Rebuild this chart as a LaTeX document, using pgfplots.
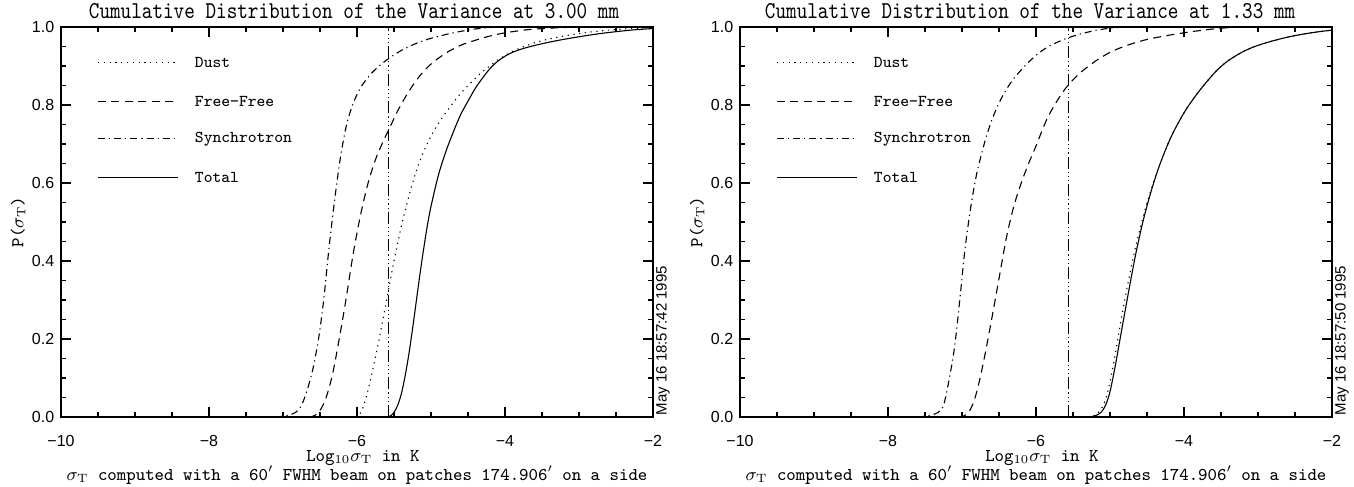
\documentclass[border=0pt]{standalone}
\usepackage{fontspec}
\usepackage{graphicx}
\usepackage{pgfplots}
\pgfplotsset{compat=1.18}
\newfontfamily\sansf{Liberation Sans}

\tikzset{
  dustst/.style={line width=0.55pt, dash pattern=on 0.6pt off 2.3pt},
  ffst/.style={line width=0.55pt, dash pattern=on 4pt off 2.7pt},
  syst/.style={line width=0.55pt, dash pattern=on 3.5pt off 2pt on 0.6pt off 2pt},
  totst/.style={line width=0.55pt},
  vst/.style={line width=0.55pt, dash pattern=on 6pt off 1.5pt on 0.6pt off 1.5pt on 0.6pt off 1.5pt on 0.6pt off 1.5pt},
}

\pgfplotsset{
  cdfaxis/.style={
    scale only axis, width=296pt, height=195pt,
    xmin=-10, xmax=-2, ymin=0, ymax=1,
    xtick={-10,-8,-6,-4,-2}, xticklabels={−10,−8,−6,−4,−2},
    ytick={0,0.2,0.4,0.6,0.8,1}, yticklabels={0.0,0.2,0.4,0.6,0.8,1.0},
    minor x tick num=3, minor y tick num=3,
    tick align=inside,
    major tick length=5pt, minor tick length=2.5pt,
    line width=0.75pt,
    every tick/.style={line width=0.6pt, black},
    tick label style={font=\sansf\fontsize{8}{9}\selectfont},
    xticklabel style={anchor=base, yshift=-14.5pt},
    yticklabel style={anchor=east, xshift=0.3pt},
    clip=false,
  },
}

\begin{document}
\begin{tikzpicture}
\useasboundingbox (-30.5pt,-35pt) rectangle (646.5pt,208.5pt);

% ---------------- Left: 3.00 mm ----------------
\begin{axis}[cdfaxis, at={(0pt,0pt)}, anchor=south west]
\addplot[syst, smooth] coordinates {
(-7.1,0) (-7.0,0.002) (-6.9,0.006) (-6.82,0.013) (-6.75,0.03) (-6.68,0.065)
(-6.6,0.12) (-6.52,0.2) (-6.45,0.3) (-6.38,0.43) (-6.3,0.56) (-6.22,0.67)
(-6.14,0.75) (-6.05,0.805) (-5.95,0.845) (-5.82,0.878) (-5.7,0.9) (-5.58,0.918)
(-5.4,0.94) (-5.2,0.958) (-5.0,0.971) (-4.7,0.985) (-4.4,0.995) (-4.1,1.0)};
\addplot[ffst, smooth] coordinates {
(-6.65,0) (-6.58,0.003) (-6.52,0.012) (-6.46,0.03) (-6.4,0.06) (-6.33,0.11)
(-6.25,0.19) (-6.15,0.3) (-6.05,0.42) (-5.95,0.52) (-5.85,0.6) (-5.75,0.66)
(-5.65,0.705) (-5.55,0.745) (-5.45,0.785) (-5.3,0.835) (-5.15,0.875) (-5.0,0.905)
(-4.8,0.933) (-4.6,0.953) (-4.4,0.966) (-4.2,0.977) (-4.0,0.985) (-3.7,0.993)
(-3.4,0.997) (-3.0,1.0)};
\addplot[dustst, smooth] coordinates {
(-6.02,0) (-5.98,0.004) (-5.94,0.015) (-5.9,0.035) (-5.85,0.07) (-5.8,0.11)
(-5.7,0.2) (-5.6,0.3) (-5.5,0.4) (-5.4,0.49) (-5.3,0.565) (-5.2,0.63) (-5.1,0.68)
(-5.0,0.72) (-4.9,0.753) (-4.8,0.78) (-4.65,0.818) (-4.5,0.85) (-4.3,0.886)
(-4.1,0.915) (-3.9,0.937) (-3.7,0.953) (-3.5,0.965) (-3.2,0.977) (-2.9,0.986)
(-2.6,0.992) (-2.3,0.996) (-2.0,0.998)};
\addplot[totst, smooth] coordinates {
(-5.58,0) (-5.54,0.004) (-5.5,0.012) (-5.45,0.03) (-5.4,0.06) (-5.35,0.105)
(-5.3,0.16) (-5.25,0.225) (-5.2,0.295) (-5.15,0.365) (-5.1,0.43) (-5.05,0.49)
(-5.0,0.54) (-4.9,0.62) (-4.8,0.68) (-4.7,0.73) (-4.6,0.775) (-4.5,0.81)
(-4.4,0.843) (-4.3,0.87) (-4.2,0.894) (-4.1,0.912) (-4.0,0.925) (-3.9,0.935)
(-3.75,0.945) (-3.57,0.954) (-3.3,0.965) (-3.0,0.975) (-2.68,0.984) (-2.3,0.992)
(-2.0,0.996)};
\addplot[vst] coordinates {(-5.57,0) (-5.57,1)};
% legend
\addplot[dustst] coordinates {(-9.5,0.91) (-8.42,0.91)};
\addplot[ffst] coordinates {(-9.5,0.81) (-8.42,0.81)};
\addplot[syst] coordinates {(-9.5,0.713) (-8.42,0.713)};
\addplot[totst] coordinates {(-9.5,0.613) (-8.42,0.613)};
\begin{scope}[every node/.style={font=\ttfamily\fontsize{8.3}{10}\selectfont, anchor=west, inner sep=0pt}]
\node at (axis cs:-8.2,0.91) {Dust};
\node at (axis cs:-8.2,0.81) {Free−Free};
\node at (axis cs:-8.2,0.713) {Synchrotron};
\node at (axis cs:-8.2,0.613) {Total};
\end{scope}
\node[anchor=base, font=\ttfamily\fontsize{10.1}{12}\selectfont, inner sep=0pt, yshift=4pt] at (rel axis cs:0.495,1) {\scalebox{1}[1.2]{Cumulative Distribution of the Variance at 3.00 mm}};
\node[anchor=base, font=\ttfamily\fontsize{9}{10}\selectfont, inner sep=0pt, yshift=-22pt] at (rel axis cs:0.51,0) {Log$_{10}\sigma_{\mathrm T}$ in K};
\node[anchor=base, font=\ttfamily\fontsize{9}{10}\selectfont, inner sep=0pt, yshift=-31.5pt] at (rel axis cs:0.5,0) {$\sigma_{\mathrm T}$ computed with a 60$'$ FWHM beam on patches 174.906$'$ on a side};
\node[font=\ttfamily\fontsize{9}{10}\selectfont, rotate=90, inner sep=0pt] at (rel axis cs:-0.0726,0.5) {P($\sigma_{\mathrm T}$)};
\node[xshift=5pt, yshift=0.5pt, rotate=90, anchor=west, inner sep=0pt, font=\sansf\fontsize{7.5}{8}\selectfont] at (rel axis cs:1,0) {May 16 18:57:42 1995};
\end{axis}

% ---------------- Right: 1.33 mm ----------------
\begin{axis}[cdfaxis, at={(339.5pt,0pt)}, anchor=south west]
\addplot[syst, smooth] coordinates {
(-7.6,0) (-7.5,0.002) (-7.4,0.006) (-7.32,0.012) (-7.25,0.03) (-7.18,0.09)
(-7.1,0.18) (-7.03,0.3) (-6.96,0.43) (-6.88,0.54) (-6.8,0.625) (-6.7,0.7)
(-6.6,0.76) (-6.5,0.805) (-6.4,0.84) (-6.3,0.868) (-6.2,0.89) (-6.1,0.91)
(-5.95,0.935) (-5.8,0.953) (-5.6,0.97) (-5.4,0.982) (-5.2,0.991) (-5.0,0.997)
(-4.8,1.0)};
\addplot[ffst, smooth] coordinates {
(-7.05,0) (-6.97,0.003) (-6.9,0.015) (-6.84,0.04) (-6.78,0.08) (-6.7,0.15)
(-6.6,0.25) (-6.5,0.355) (-6.4,0.46) (-6.3,0.54) (-6.2,0.6) (-6.1,0.65)
(-6.0,0.695) (-5.85,0.765) (-5.7,0.815) (-5.57,0.85) (-5.4,0.883) (-5.2,0.912)
(-5.0,0.935) (-4.77,0.953) (-4.5,0.968) (-4.2,0.979) (-3.9,0.988) (-3.6,0.995)
(-3.3,1.0)};
\addplot[dustst, smooth] coordinates {
(-5.3,0) (-5.2,0.005) (-5.12,0.02) (-5.06,0.045) (-5.0,0.09) (-4.93,0.16)
(-4.85,0.25) (-4.75,0.35) (-4.65,0.44) (-4.55,0.515) (-4.45,0.58) (-4.35,0.636)
(-4.25,0.685) (-4.15,0.728) (-4.0,0.78) (-3.85,0.822) (-3.7,0.858) (-3.55,0.89)
(-3.4,0.914) (-3.2,0.937) (-3.0,0.953) (-2.75,0.967) (-2.5,0.978) (-2.25,0.986)
(-2.0,0.992)};
\addplot[totst, smooth] coordinates {
(-5.3,0) (-5.2,0.003) (-5.12,0.012) (-5.06,0.03) (-5.0,0.065) (-4.93,0.13)
(-4.85,0.215) (-4.75,0.32) (-4.65,0.42) (-4.55,0.505) (-4.45,0.575) (-4.35,0.635)
(-4.25,0.685) (-4.15,0.728) (-4.0,0.78) (-3.85,0.822) (-3.7,0.858) (-3.55,0.89)
(-3.4,0.914) (-3.2,0.937) (-3.0,0.953) (-2.75,0.967) (-2.5,0.978) (-2.25,0.986)
(-2.0,0.992)};
\addplot[vst] coordinates {(-5.56,0) (-5.56,1)};
% legend
\addplot[dustst] coordinates {(-9.5,0.91) (-8.42,0.91)};
\addplot[ffst] coordinates {(-9.5,0.81) (-8.42,0.81)};
\addplot[syst] coordinates {(-9.5,0.713) (-8.42,0.713)};
\addplot[totst] coordinates {(-9.5,0.613) (-8.42,0.613)};
\begin{scope}[every node/.style={font=\ttfamily\fontsize{8.3}{10}\selectfont, anchor=west, inner sep=0pt}]
\node at (axis cs:-8.2,0.91) {Dust};
\node at (axis cs:-8.2,0.81) {Free−Free};
\node at (axis cs:-8.2,0.713) {Synchrotron};
\node at (axis cs:-8.2,0.613) {Total};
\end{scope}
\node[anchor=base, font=\ttfamily\fontsize{10.1}{12}\selectfont, inner sep=0pt, yshift=4pt] at (rel axis cs:0.49,1) {\scalebox{1}[1.2]{Cumulative Distribution of the Variance at 1.33 mm}};
\node[anchor=base, font=\ttfamily\fontsize{9}{10}\selectfont, inner sep=0pt, yshift=-22pt] at (rel axis cs:0.51,0) {Log$_{10}\sigma_{\mathrm T}$ in K};
\node[anchor=base, font=\ttfamily\fontsize{9}{10}\selectfont, inner sep=0pt, yshift=-31.5pt] at (rel axis cs:0.5,0) {$\sigma_{\mathrm T}$ computed with a 60$'$ FWHM beam on patches 174.906$'$ on a side};
\node[font=\ttfamily\fontsize{9}{10}\selectfont, rotate=90, inner sep=0pt] at (rel axis cs:-0.0726,0.5) {P($\sigma_{\mathrm T}$)};
\node[xshift=5pt, yshift=0.5pt, rotate=90, anchor=west, inner sep=0pt, font=\sansf\fontsize{7.5}{8}\selectfont] at (rel axis cs:1,0) {May 16 18:57:50 1995};
\end{axis}
\end{tikzpicture}
\end{document}
